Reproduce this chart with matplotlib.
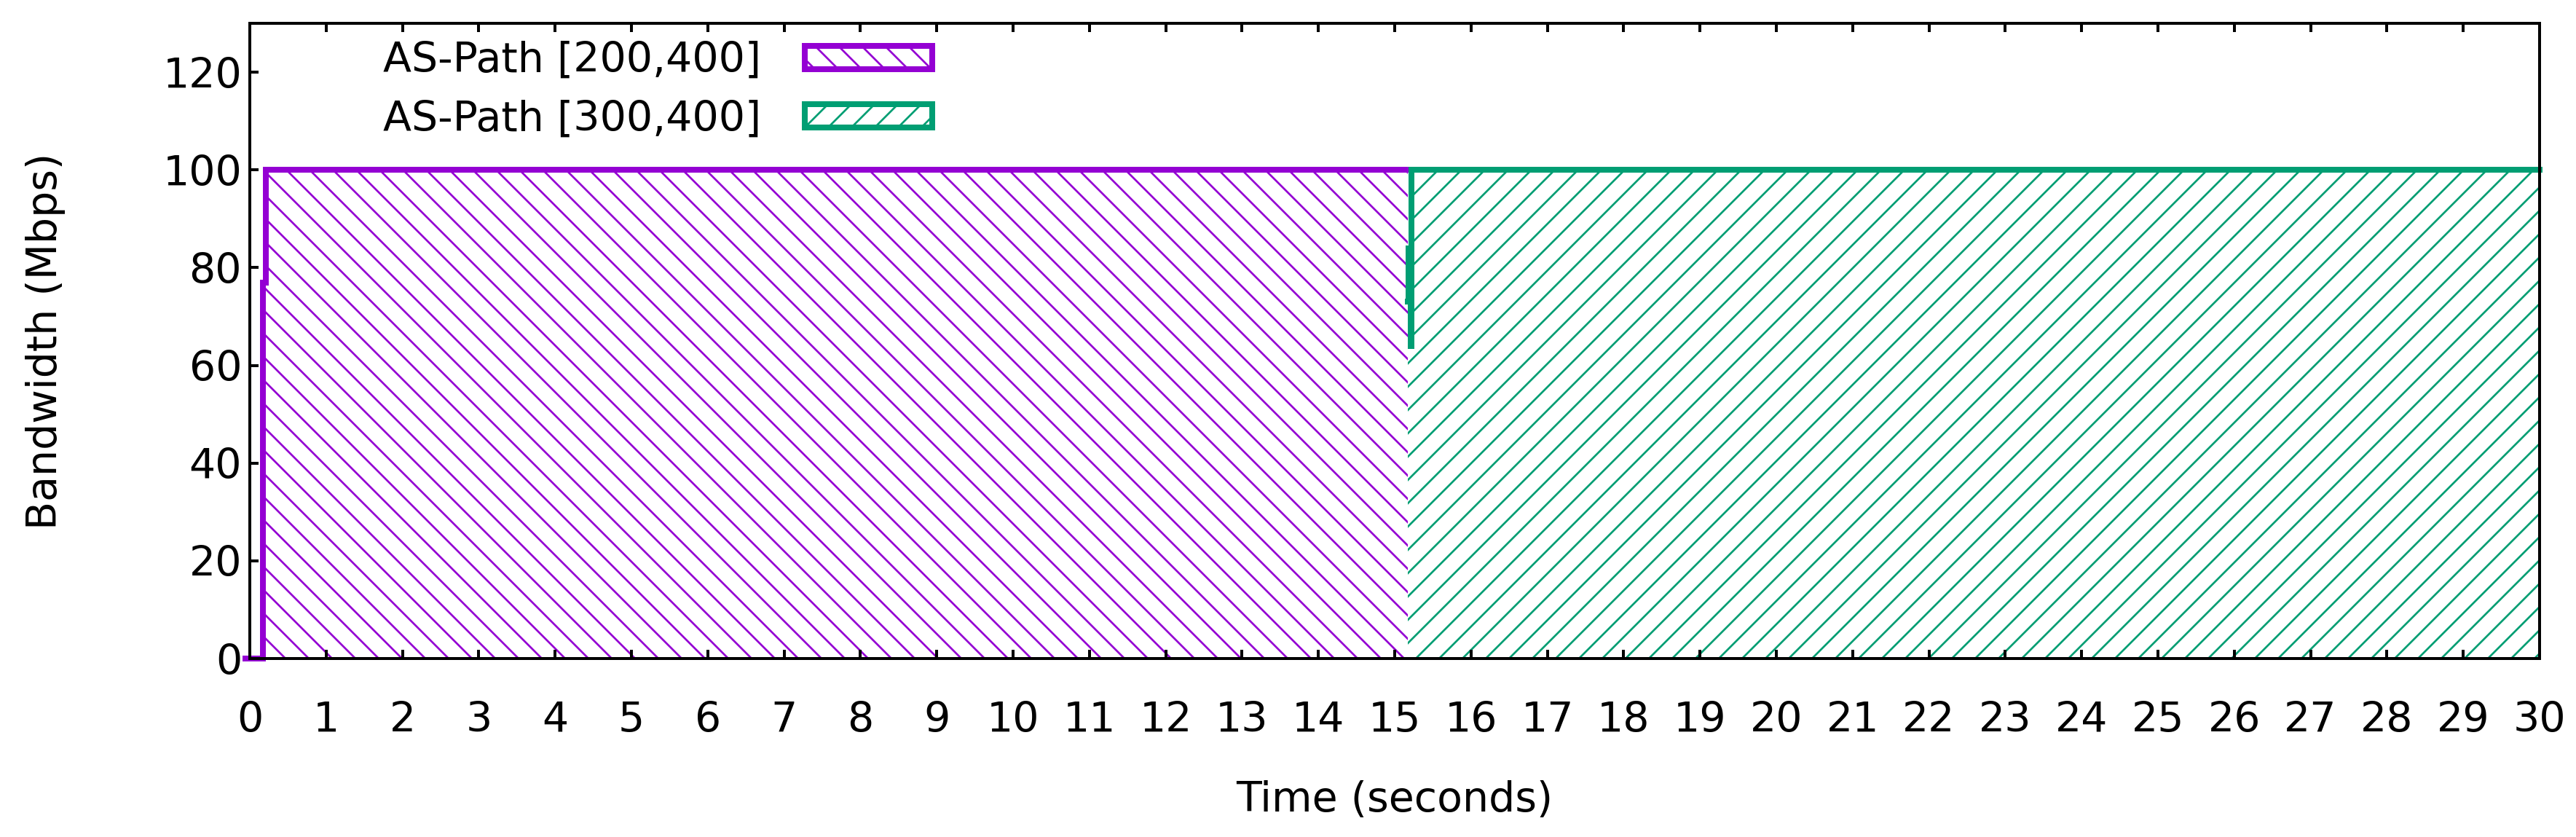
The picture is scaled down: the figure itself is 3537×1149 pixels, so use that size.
import matplotlib
matplotlib.use("Agg")
import matplotlib.pyplot as plt
from matplotlib.patches import Patch

# step data (time in s, bandwidth in Mbps)
time_a = [-0.06, 0.17, 0.21, 15.17]
bw_a = [0, 77, 100, 100]
time_b = [15.17, 15.18, 15.21, 15.22, 30.0]
bw_b = [73, 84, 64, 100, 100]

labels = ["AS-Path [200,400]", "AS-Path [300,400]"]
colors = ["#9400D3", "#009E73"]
hatches = ["\\\\", "//"]

x_ticks = list(range(0, 31))
y_ticks = [0, 20, 40, 60, 80, 100, 120]

W, H = 3537, 1149
# hatch spacing in agg is 2*dpi/(6*n) px -> 32 px for n=2 at 192 dpi
DPI = 192


def px(v):
    # size given in output pixels -> points
    return v * 72.0 / DPI


FS = px(57)

plt.rcParams["font.family"] = ["DejaVu Sans"]
plt.rcParams["hatch.linewidth"] = px(2.7)

fig = plt.figure(figsize=(W / DPI, H / DPI), dpi=DPI)
ax = fig.add_axes([343 / W, 1 - 904 / H, (3487 - 343) / W, (904 - 32) / H])

series = [(time_a, bw_a), (time_b, bw_b)]
for (t, bw), color, hatch in zip(series, colors, hatches):
    ax.fill_between(t, bw, 0, step="post", facecolor="none",
                    edgecolor=color, linewidth=0, hatch=hatch, zorder=1)
    ax.step(t, bw, where="post", color=color, linewidth=px(8), zorder=3,
            clip_on=False, solid_joinstyle="miter")

ax.set_xlim(0, 30)
ax.set_ylim(0, 130)
ax.set_xticks(x_ticks)
ax.set_yticks(y_ticks)

for side in ax.spines.values():
    side.set_linewidth(px(4))
    side.set_zorder(4)

ax.tick_params(direction="in", length=px(12), width=px(4), top=True, right=False,
               labelsize=FS)
ax.tick_params(axis="x", pad=px(58))
ax.tick_params(axis="y", pad=px(11))

ax.set_xlabel("Time (seconds)", fontsize=FS)
ax.set_ylabel("Bandwidth (Mbps)", fontsize=FS)
ax.xaxis.set_label_coords(0.5, -0.192)
ax.yaxis.set_label_coords(-0.0804, 0.5)

handles = [Patch(facecolor="white", edgecolor=c, hatch=h, linewidth=px(8))
           for c, h in zip(colors, hatches)]
ax.legend(handles, labels, loc="upper left", bbox_to_anchor=(526 / W, 1 - 56 / H),
          bbox_transform=fig.transFigure, frameon=False, markerfirst=False,
          fontsize=FS, handlelength=3.07, handleheight=0.49, handletextpad=1.05,
          labelspacing=0.45, borderpad=0, borderaxespad=0)

fig.savefig("out.png", dpi=DPI)
